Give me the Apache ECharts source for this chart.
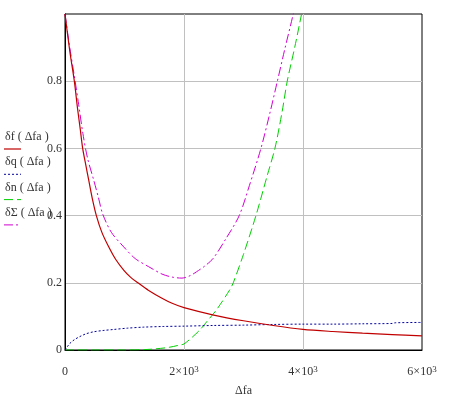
<!DOCTYPE html>
<html>
<head>
<meta charset="utf-8">
<script src="https://cdn.jsdelivr.net/npm/echarts@6/dist/echarts.min.js"></script>
<style>html,body{margin:0;padding:0;background:#fff}#c{width:451px;height:397px}</style>
</head>
<body>
<div id="c"></div>
<script>
const seriesNames = ['δf ( Δfa )', 'δq ( Δfa )', 'δn ( Δfa )', 'δΣ ( Δfa )'];
const xTicks = [0, 2000, 4000, 6000];
const yTicks = [0, 0.2, 0.4, 0.6, 0.8];

const dfX = [0, 80, 157, 210, 258, 297, 350, 398, 460, 527, 620, 734, 850, 986, 1100, 1226, 1400, 1630, 1800, 2000, 2500, 3000, 3500, 4000, 4500, 5000, 5500, 6000];
const dfY = [1.0, 0.89, 0.8, 0.72, 0.655, 0.6, 0.55, 0.506, 0.45, 0.4, 0.35, 0.307, 0.27, 0.238, 0.217, 0.2, 0.178, 0.154, 0.139, 0.126, 0.104, 0.087, 0.073, 0.0615, 0.055, 0.05, 0.046, 0.042];

const dqX = [0, 40, 84, 160, 250, 350, 476, 640, 812, 1050, 1316, 1650, 2000, 2500, 3000, 3500, 4000, 4500, 5000, 5500, 5550, 6000];
const dqY = [0, 0.01, 0.02, 0.031, 0.04, 0.048, 0.054, 0.058, 0.061, 0.065, 0.068, 0.07, 0.071, 0.073, 0.074, 0.076, 0.077, 0.077, 0.078, 0.079, 0.081, 0.082];

const dnX = [0, 500, 1000, 1300, 1500, 1750, 1932, 2000, 2150, 2268, 2400, 2548, 2772, 2828, 3000, 3209, 3400, 3528, 3650, 3735, 3860, 3976, 4010];
const dnY = [0, 0, 0, 0.001, 0.003, 0.008, 0.015, 0.018, 0.04, 0.06, 0.088, 0.12, 0.18, 0.2, 0.285, 0.4, 0.52, 0.6, 0.71, 0.8, 0.9, 1.0, 1.03];

const dsX = [0, 80, 157, 230, 300, 380, 482, 560, 633, 780, 986, 1180, 1406, 1630, 1800, 1966, 2100, 2212, 2350, 2492, 2700, 2928, 3100, 3293, 3450, 3569, 3700, 3836, 3880];
const dsY = [1.0, 0.9, 0.815, 0.73, 0.645, 0.57, 0.506, 0.455, 0.405, 0.35, 0.307, 0.272, 0.248, 0.226, 0.217, 0.214, 0.221, 0.233, 0.25, 0.273, 0.33, 0.4, 0.49, 0.6, 0.71, 0.8, 0.9, 1.0, 1.04];

const colors = ['#c00000', '#0000a0', '#00d000', '#d000d0'];
const dashes = ['solid', [2, 2], [9, 4], [9, 3, 2, 3]];
const widths = [1.2, 1, 1, 1];

function pairs(xs, ys) { return xs.map((x, i) => [x, ys[i]]); }
const dataSets = [pairs(dfX, dfY), pairs(dqX, dqY), pairs(dnX, dnY), pairs(dsX, dsY)];

const serif = '"Liberation Serif", "DejaVu Serif", serif';

const chart = echarts.init(document.getElementById('c'), null, {renderer: 'canvas'});

const legendGraphics = [];
seriesNames.forEach((n, i) => {
  const ty = 138 + i * 25.3;
  legendGraphics.push({
    type: 'text', left: 5, top: ty - 7,
    style: {text: n, font: '12px ' + serif, fill: '#333'}
  });
  legendGraphics.push({
    type: 'line', shape: {x1: 4, y1: ty + 11, x2: 21, y2: ty + 11},
    style: {stroke: colors[i], lineWidth: widths[i], lineDash: dashes[i] === 'solid' ? null : dashes[i]}
  });
});

chart.setOption({
  animation: false,
  backgroundColor: '#fff',
  grid: {left: 65, right: 29, top: 14, bottom: 47, show: true, borderColor: '#000', borderWidth: 1, backgroundColor: 'transparent', outerBoundsMode: 'none', containLabel: false},
  xAxis: {
    type: 'value', min: xTicks[0], max: xTicks[xTicks.length - 1], interval: 2000,
    axisLine: {show: true, lineStyle: {color: '#000', width: 1}},
    axisTick: {show: false},
    splitLine: {show: true, showMinLine: false, showMaxLine: false, lineStyle: {color: '#c0c0c0', width: 1}},
    axisLabel: {
      margin: 15,
      formatter: v => v === 0 ? '{n|0}' : '{n|' + (v / 1000) + '×10}{s|3}',
      rich: {
        n: {fontFamily: serif, fontSize: 12, color: '#333', lineHeight: 14},
        s: {fontFamily: serif, fontSize: 9, color: '#333', verticalAlign: 'top', lineHeight: 9}
      }
    },
    name: 'Δfa', nameLocation: 'middle', nameGap: 35,
    nameTextStyle: {fontFamily: serif, fontSize: 12, color: '#333'}
  },
  yAxis: {
    type: 'value', min: 0, max: 1, interval: 0.2,
    axisLine: {show: true, lineStyle: {color: '#000', width: 1}},
    axisTick: {show: false},
    splitLine: {show: true, showMinLine: false, showMaxLine: false, lineStyle: {color: '#c0c0c0', width: 1}},
    axisLabel: {
      margin: 3, showMaxLabel: false,
      fontFamily: serif, fontSize: 12, color: '#333',
      formatter: v => yTicks.indexOf(Math.round(v * 10) / 10) >= 0 ? String(Math.round(v * 10) / 10) : ''
    }
  },
  graphic: legendGraphics,
  series: dataSets.map((d, i) => ({
    type: 'line', name: seriesNames[i], data: d, smooth: 0.3, showSymbol: false, clip: true,
    lineStyle: {color: colors[i], width: widths[i], type: dashes[i]},
    z: 10 - i
  }))
});
</script>
</body>
</html>
